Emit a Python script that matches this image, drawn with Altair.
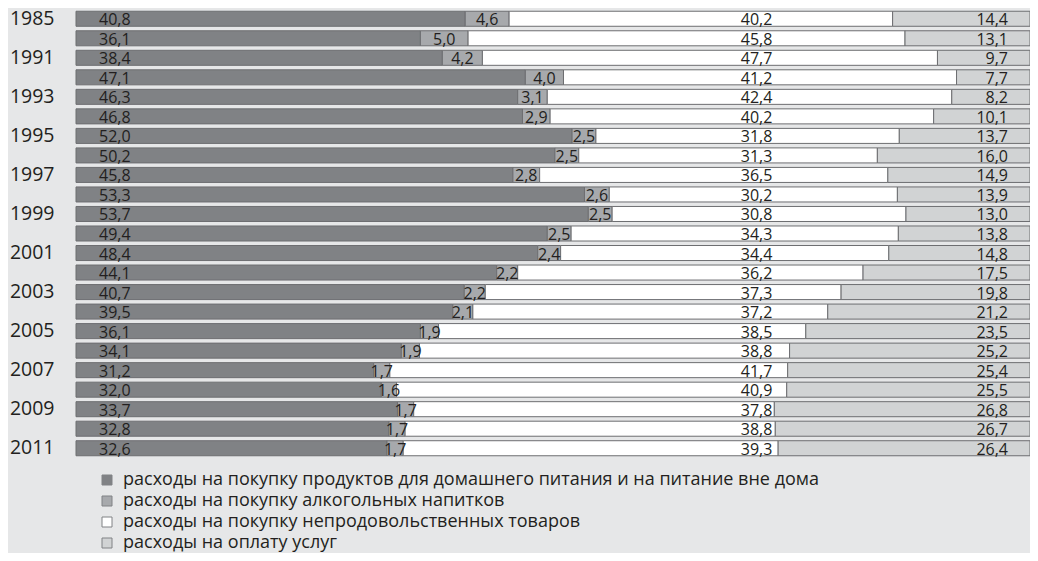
import altair as alt
import pandas as pd

years = ["1985", "1990"] + [str(y) for y in range(1991, 2012)]
food = [40.8, 36.1, 38.4, 47.1, 46.3, 46.8, 52.0, 50.2, 45.8, 53.3, 53.7, 49.4,
        48.4, 44.1, 40.7, 39.5, 36.1, 34.1, 31.2, 32.0, 33.7, 32.8, 32.6]
alcohol = [4.6, 5.0, 4.2, 4.0, 3.1, 2.9, 2.5, 2.5, 2.8, 2.6, 2.5, 2.5,
           2.4, 2.2, 2.2, 2.1, 1.9, 1.9, 1.7, 1.6, 1.7, 1.7, 1.7]
nonfood = [40.2, 45.8, 47.7, 41.2, 42.4, 40.2, 31.8, 31.3, 36.5, 30.2, 30.8, 34.3,
           34.4, 36.2, 37.3, 37.2, 38.5, 38.8, 41.7, 40.9, 37.8, 38.8, 39.3]
services = [14.4, 13.1, 9.7, 7.7, 8.2, 10.1, 13.7, 16.0, 14.9, 13.9, 13.0, 13.8,
            14.8, 17.5, 19.8, 21.2, 23.5, 25.2, 25.4, 25.5, 26.8, 26.7, 26.4]
categories = [
    "расходы на покупку продуктов для домашнего питания и на питание вне дома",
    "расходы на покупку алкогольных напитков",
    "расходы на покупку непродовольственных товаров",
    "расходы на оплату услуг",
]
colors = ["#808285", "#a7a9ac", "#ffffff", "#d1d3d4"]

rows = []
for i, yr in enumerate(years):
    for k, vals in enumerate([food, alcohol, nonfood, services]):
        rows.append({"year": yr, "cat": categories[k], "ord": k, "value": vals[i],
                     "label": f"{vals[i]:.1f}".replace(".", ",")})
df = pd.DataFrame(rows)

FONT = "Open Sans"
TXT = "#231f20"

base = alt.Chart(df).transform_stack(
    stack="value", groupby=["year"], as_=["v0", "v1"],
    sort=[alt.SortField("ord")], offset="normalize"
).transform_calculate(mid="(datum.v0 + datum.v1) / 2")

y_enc = alt.Y(
    "year:N", sort=years, title=None,
    scale=alt.Scale(paddingInner=0.23, paddingOuter=0.115),
    axis=alt.Axis(ticks=False, domain=False, labelFontSize=19.5, labelFont=FONT,
                  labelColor=TXT, labelPadding=22,
                  labelExpr="(datum.value == '1990' || toNumber(datum.value) % 2 == 0) ? '' : datum.value"),
)
xscale = alt.Scale(domain=[0, 1])

bars = base.mark_bar(stroke="#6d6e71", strokeWidth=1).encode(
    x=alt.X("v0:Q", scale=xscale, axis=None),
    x2="v1:Q",
    y=y_enc,
    color=alt.Color("cat:N", scale=alt.Scale(domain=categories, range=colors),
                    legend=alt.Legend(title=None, orient="none", legendX=22, legendY=462,
                                      symbolType="square", symbolSize=100,
                                      symbolStrokeColor="#808285", symbolStrokeWidth=1,
                                      labelFontSize=18, labelFont=FONT, labelColor=TXT,
                                      labelLimit=1000, labelOffset=7, rowPadding=3,
                                      padding=0)),
)

tprops = dict(font=FONT, fontSize=16, color=TXT, baseline="middle", dy=1.5)

t_food = base.transform_filter("datum.ord == 0").mark_text(align="left", dx=23, **tprops).encode(
    x=alt.X("v0:Q", scale=xscale, axis=None), y=y_enc, text="label:N")
t_alc = base.transform_filter("datum.ord == 1").mark_text(align="center", **tprops).encode(
    x=alt.X("mid:Q", scale=xscale, axis=None), y=y_enc, text="label:N")
t_non = base.transform_filter("datum.ord == 2").mark_text(align="right", **tprops).encode(
    x=alt.datum(0.73, type="quantitative", scale=xscale, axis=None), y=y_enc, text="label:N")
t_srv = base.transform_filter("datum.ord == 3").mark_text(align="right", dx=-22, **tprops).encode(
    x=alt.X("v1:Q", scale=xscale, axis=None), y=y_enc, text="label:N")

chart = alt.layer(bars, t_food, t_alc, t_non, t_srv).properties(
    width=954, height=449,
    padding={"left": 68, "top": 1, "right": 0, "bottom": 95},
    autosize=alt.AutoSizeParams(type="none"),
    background="#e6e7e8",
).configure_view(stroke=None)

chart.save("out.html", embed_options={"renderer": "svg", "actions": False})
